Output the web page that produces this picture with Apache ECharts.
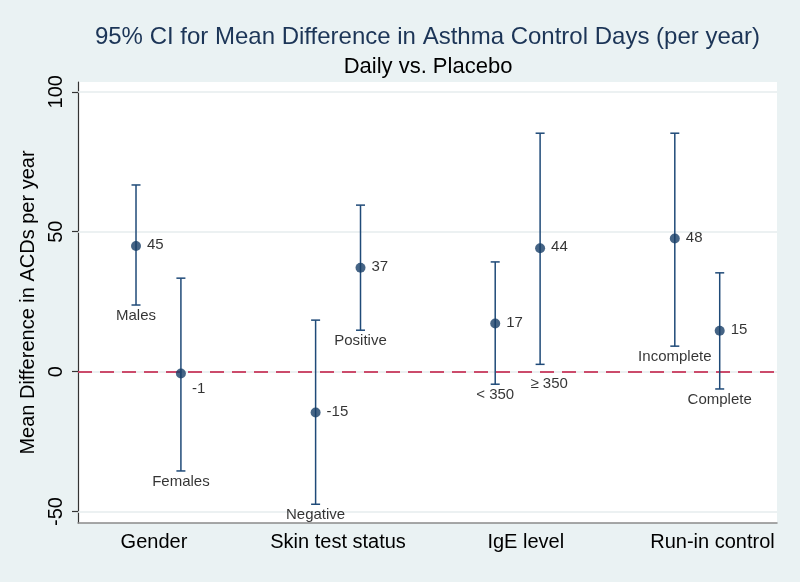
<!DOCTYPE html>
<html><head><meta charset="utf-8">
<script src="https://cdn.jsdelivr.net/npm/echarts@6/dist/echarts.min.js"></script>
<style>html,body{margin:0;padding:0;background:#eaf2f3}#c{width:800px;height:582px}</style>
</head><body><div id="c"></div>
<script>
// ---- data ----
const titleText = '95% CI for Mean Difference in Asthma Control Days (per year)';
const subtitleText = 'Daily vs. Placebo';
const yAxisTitle = 'Mean Difference in ACDs per year';
const categories = ['Gender', 'Skin test status', 'IgE level', 'Run-in control'];
const categoryTickValues = [1.10, 2.125, 3.17, 4.21];
const subgroups = ['Males', 'Females', 'Negative', 'Positive', '< 350', '\u2265 350', 'Incomplete', 'Complete'];
const xPos = [1, 1.25, 2, 2.25, 3, 3.25, 4, 4.25];
const estimates = [44.9, -0.7, -14.6, 37.1, 17.2, 44.1, 47.6, 14.6];
const lower = [23.8, -35.5, -47.4, 14.8, -4.5, 2.6, 9.1, -6.2];
const upper = [66.7, 33.4, 18.4, 59.5, 39.2, 85.2, 85.2, 35.3];
const yTicks = [-50, 0, 50, 100];
const refLine = 0;

// ---- styling ----
const FONT = '"Liberation Sans", Arial, sans-serif';
const barColor = '#1f4a78';
const pointColor = '#163d66';
const estLabelOverrides = {1: {offset: [0, 15]}};
const groupLabelOverrides = {5: {offset: [9, 9]}};

const chart = echarts.init(document.getElementById('c'), null, {renderer: 'canvas'});

const barData = xPos.map((x, i) => [x, lower[i], upper[i]]);
const pointData = xPos.map((x, i) => {
  const d = {value: [x, estimates[i]]};
  if (estLabelOverrides[i]) d.label = estLabelOverrides[i];
  return d;
});
const groupLabelData = xPos.map((x, i) => {
  const d = {value: [x, lower[i]], name: subgroups[i]};
  if (groupLabelOverrides[i]) d.label = groupLabelOverrides[i];
  return d;
});

const option = {
  backgroundColor: '#eaf2f3',
  animation: false,
  textStyle: {fontFamily: FONT},
  title: [
    {text: titleText, left: 427.5, top: 25, textAlign: 'center', padding: 0,
     textStyle: {fontFamily: FONT, fontSize: 24, fontWeight: 'normal', color: '#1c3557'}},
    {text: subtitleText, left: 428, top: 56, textAlign: 'center', padding: 0,
     textStyle: {fontFamily: FONT, fontSize: 22, fontWeight: 'normal', color: '#000'}}
  ],
  grid: {left: 78, right: 23, top: 82, bottom: 59, show: true, backgroundColor: '#fff', borderWidth: 0},
  xAxis: {
    type: 'value', min: 0.677, max: 4.569,
    splitLine: {show: false},
    axisTick: {show: false},
    axisLine: {show: true, onZero: false, lineStyle: {color: '#8a8a8a', width: 1.5}},
    axisLabel: {
      customValues: categoryTickValues,
      formatter: v => {
        const i = categoryTickValues.findIndex(t => Math.abs(t - v) < 1e-6);
        return i >= 0 ? categories[i] : '';
      },
      fontFamily: FONT, fontSize: 20, color: '#000', margin: 9
    }
  },
  yAxis: {
    type: 'value', min: -54.1, max: 103.5,
    name: yAxisTitle, nameLocation: 'middle', nameGap: 31, nameRotate: 90,
    nameTextStyle: {fontFamily: FONT, fontSize: 20, color: '#000'},
    splitLine: {show: false},
    axisLine: {show: true, onZero: false, lineStyle: {color: '#333', width: 1.2}},
    axisTick: {show: true, customValues: yTicks, length: 6, lineStyle: {color: '#333', width: 1.2}},
    axisLabel: {customValues: yTicks, rotate: 90, fontFamily: FONT, fontSize: 20, color: '#000', margin: 12}
  },
  series: [
    {
      type: 'line', data: [], z: 1, silent: true,
      markLine: {
        z: 1, silent: true, symbol: ['none', 'none'], label: {show: false},
        lineStyle: {color: '#e6ecee', width: 1.5, type: 'solid'},
        data: yTicks.map(v => ({yAxis: v}))
      }
    },
    {
      type: 'line', data: [], z: 2, silent: true,
      markLine: {
        z: 2, silent: true, symbol: ['none', 'none'], label: {show: false},
        lineStyle: {color: '#c0143f', width: 1.5, type: [14, 8]},
        data: [{yAxis: refLine}]
      }
    },
    {
      type: 'custom', z: 3, data: barData,
      encode: {x: 0, y: [1, 2]},
      renderItem: (params, api) => {
        const x = api.value(0);
        const lo = api.coord([x, api.value(1)]);
        const hi = api.coord([x, api.value(2)]);
        const hw = 4.5;
        const style = {stroke: barColor, lineWidth: 1.5, fill: null};
        return {type: 'group', children: [
          {type: 'line', shape: {x1: lo[0], y1: lo[1], x2: hi[0], y2: hi[1]}, style},
          {type: 'line', shape: {x1: lo[0] - hw, y1: lo[1], x2: lo[0] + hw, y2: lo[1]}, style},
          {type: 'line', shape: {x1: hi[0] - hw, y1: hi[1], x2: hi[0] + hw, y2: hi[1]}, style}
        ]};
      }
    },
    {
      type: 'scatter', z: 4, data: pointData, symbol: 'circle', symbolSize: 10,
      itemStyle: {color: pointColor},
      label: {
        show: true, position: 'right', distance: 6, offset: [0, -1],
        formatter: p => String(Math.round(p.value[1])),
        fontFamily: FONT, fontSize: 15, color: '#000'
      }
    },
    {
      type: 'scatter', z: 4, data: groupLabelData, symbolSize: 0, silent: true,
      itemStyle: {color: 'rgba(0,0,0,0)'},
      label: {
        show: true, position: 'bottom', distance: 3,
        formatter: p => p.name,
        fontFamily: FONT, fontSize: 15, color: '#000'
      }
    }
  ]
};
chart.setOption(option);
</script>
</body></html>
